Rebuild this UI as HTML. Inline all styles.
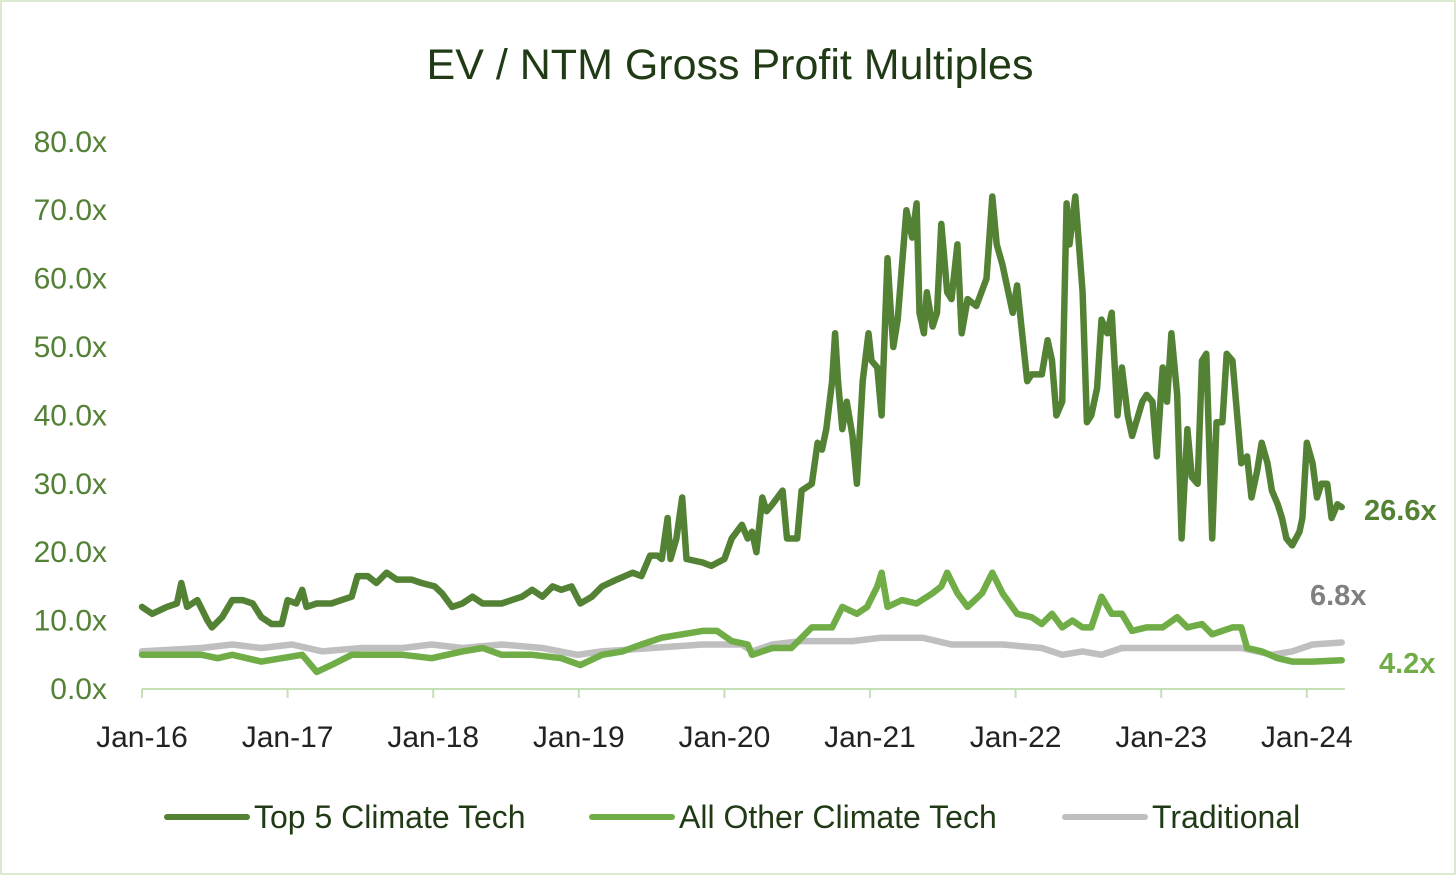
<!DOCTYPE html>
<html><head><meta charset="utf-8">
<style>
html,body{margin:0;padding:0;background:#fff;}
#wrap{position:relative;width:1456px;height:875px;box-sizing:border-box;border:2px solid #dbe9d0;}
svg{position:absolute;left:0;top:0;}
text{font-family:"Liberation Sans",sans-serif;}
</style></head><body>
<div id="wrap">
<svg id="chart" width="1456" height="875">
<text x="728" y="77" text-anchor="middle" font-size="43" fill="#1f3a14">EV / NTM Gross Profit Multiples</text>
<g id="yaxis"></g>
<g id="xaxis"></g>
<g id="series"></g>
<g id="legend"></g>
</svg>
</div>
<script>
// years since Jan-2016
const topT=[0,.07,.17,.24,.27,.31,.38,.45,.48,.55,.62,.69,.76,.82,.89,.96,1.00,1.06,1.10,1.13,1.20,1.30,1.37,1.44,1.48,1.55,1.61,1.68,1.75,1.85,1.92,2.01,2.06,2.13,2.20,2.27,2.34,2.47,2.54,2.61,2.68,2.75,2.82,2.88,2.95,3.01,3.09,3.16,3.26,3.37,3.43,3.49,3.54,3.57,3.61,3.63,3.67,3.71,3.74,3.85,3.91,4.00,4.05,4.12,4.16,4.19,4.22,4.26,4.29,4.33,4.40,4.43,4.50,4.53,4.60,4.64,4.67,4.70,4.74,4.76,4.78,4.81,4.84,4.88,4.91,4.95,4.99,5.01,5.05,5.08,5.12,5.14,5.16,5.19,5.22,5.25,5.29,5.32,5.34,5.37,5.39,5.43,5.46,5.49,5.53,5.56,5.60,5.63,5.67,5.73,5.80,5.84,5.87,5.91,5.98,6.01,6.04,6.08,6.11,6.18,6.22,6.25,6.28,6.32,6.35,6.37,6.41,6.46,6.49,6.52,6.56,6.59,6.63,6.66,6.70,6.73,6.77,6.80,6.87,6.90,6.94,6.97,7.01,7.04,7.07,7.11,7.14,7.18,7.21,7.25,7.28,7.31,7.35,7.38,7.42,7.45,7.49,7.55,7.59,7.62,7.66,7.69,7.73,7.76,7.80,7.83,7.86,7.90,7.95,7.97,8.00,8.04,8.07,8.10,8.14,8.17,8.21,8.24];
const topV=[12,11,12,12.5,15.5,12,13,10,9,10.5,13,13,12.5,10.5,9.5,9.5,13,12.5,14.5,12,12.5,12.5,13,13.5,16.5,16.5,15.5,17,16,16,15.5,15,14,12,12.5,13.5,12.5,12.5,13,13.5,14.5,13.5,15,14.5,15,12.5,13.5,15,16,17,16.5,19.5,19.5,19,25,19,22,28,19,18.5,18,19,22,24,22,23,20,28,26,27,29,22,22,29,30,36,35,38,45,52,45,38,42,37,30,45,52,48,47,40,63,56,50,54,62,70,66,71,55,52,58,53,55,68,58,57,65,52,57,56,60,72,65,62,55,59,53,45,46,46,51,48,40,42,71,65,72,58,39,40,44,54,52,55,40,47,40,37,42,43,42,34,47,42,52,43,22,38,31,30,48,49,22,39,39,49,48,33,34,28,32,36,33,29,27,25,22,21,23,25,36,33,28,30,30,25,27,26.6];
const othT=[0,.41,.52,.62,.82,.96,1.10,1.20,1.30,1.44,1.65,1.79,1.99,2.20,2.34,2.47,2.68,2.88,3.01,3.16,3.30,3.43,3.57,3.71,3.85,3.95,4.05,4.16,4.19,4.33,4.46,4.60,4.74,4.81,4.91,4.98,5.05,5.08,5.12,5.22,5.32,5.43,5.49,5.53,5.60,5.67,5.77,5.84,5.91,6.01,6.11,6.18,6.25,6.32,6.39,6.46,6.52,6.59,6.66,6.73,6.80,6.90,7.01,7.11,7.18,7.28,7.35,7.49,7.55,7.59,7.69,7.80,7.90,8.04,8.24];
const othV=[5,5,4.5,5,4,4.5,5,2.5,3.5,5,5,5,4.5,5.5,6,5,5,4.5,3.5,5,5.5,6.5,7.5,8,8.5,8.5,7,6.5,5,6,6,9,9,12,11,12,15,17,12,13,12.5,14,15,17,14,12,14,17,14,11,10.5,9.5,11,9,10,9,9,13.5,11,11,8.5,9,9,10.5,9,9.5,8,9,9,6,5.5,4.5,4,4,4.2];
const trdT=[0,.41,.62,.82,1.03,1.24,1.51,1.79,1.99,2.20,2.47,2.75,2.99,3.16,3.50,3.85,4.12,4.19,4.33,4.53,4.88,5.08,5.36,5.56,5.91,6.18,6.32,6.46,6.59,6.73,7.01,7.28,7.55,7.76,7.90,8.04,8.24];
const trdV=[5.5,6,6.5,6,6.5,5.5,6,6,6.5,6,6.5,6,5,5.5,6,6.5,6.5,5.5,6.5,7,7,7.5,7.5,6.5,6.5,6,5,5.5,5,6,6,6,6,5,5.5,6.5,6.8];
const yTicks=[0,10,20,30,40,50,60,70,80];
const xTickLabels=["Jan-16","Jan-17","Jan-18","Jan-19","Jan-20","Jan-21","Jan-22","Jan-23","Jan-24"];
const endLabels=["26.6x","6.8x","4.2x"];

const NS="http://www.w3.org/2000/svg";
const X=t=>140+t*145.6;
const Y=v=>687-v*6.84;
function mk(tag,attrs,parent){const e=document.createElementNS(NS,tag);for(const k in attrs)e.setAttribute(k,attrs[k]);parent.appendChild(e);return e;}
const ya=document.getElementById('yaxis'),xa=document.getElementById('xaxis'),sg=document.getElementById('series'),lg=document.getElementById('legend');
yTicks.forEach(v=>{const t=mk('text',{x:105,y:Y(v)+10,'text-anchor':'end','font-size':30,fill:'#538135'},ya);t.textContent=v.toFixed(1)+'x';

});
const ax=mk('line',{x1:140,y1:687,x2:1343,y2:687,stroke:'#c5e0b4','stroke-width':2},xa);


xTickLabels.forEach((l,i)=>{const tk=mk('line',{x1:X(i),y1:687,x2:X(i),y2:696,stroke:'#c5e0b4','stroke-width':2},xa);


const t=mk('text',{x:X(i),y:745,'text-anchor':'middle','font-size':30,fill:'#222'},xa);t.textContent=l;

});
function line(T,V,color,name){const d=T.map((t,i)=>(i?'L':'M')+X(t).toFixed(1)+' '+Y(V[i]).toFixed(1)).join('');
const p=mk('path',{d:d,fill:'none',stroke:color,'stroke-width':6.5,'stroke-linejoin':'round','stroke-linecap':'round'},sg);

}
line(trdT,trdV,'#bfbfbf','traditional-line');
line(othT,othV,'#70ad47','all-other-climate-tech-line');
line(topT,topV,'#548235','top-5-climate-tech-line');
const e1=mk('text',{x:1362,y:518,'font-size':29,'font-weight':'bold',fill:'#548235'},sg);e1.textContent=endLabels[0];


const e2=mk('text',{x:1308,y:603,'font-size':29,'font-weight':'bold',fill:'#808080'},sg);e2.textContent=endLabels[1];


const e3=mk('text',{x:1377,y:671,'font-size':29,'font-weight':'bold',fill:'#70ad47'},sg);e3.textContent=endLabels[2];


[[165,'#548235','Top 5 Climate Tech'],[590,'#70ad47','All Other Climate Tech'],[1063,'#bfbfbf','Traditional']].forEach(a=>{
const g=mk('g',{},lg);


mk('line',{x1:a[0],y1:815,x2:a[0]+80,y2:815,stroke:a[1],'stroke-width':6,'stroke-linecap':'round'},g);
const t=mk('text',{x:a[0]+87,y:826,'font-size':32,fill:'#1f3a14'},g);t.textContent=a[2];});
</script>
</body></html>
